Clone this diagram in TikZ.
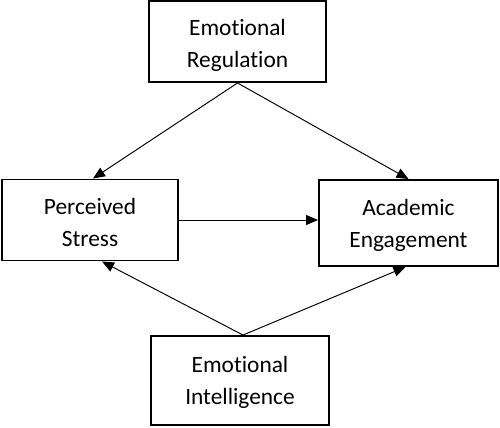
\documentclass[tikz,border=0pt]{standalone}
\usepackage{fontspec}
\setmainfont{Carlito}[RawFeature=-liga]
\usetikzlibrary{arrows.meta}
\begin{document}
\begin{tikzpicture}[x=0.02cm,y=-0.02cm,
	varbox/.style={draw, line width=1.1pt, align=center, inner sep=0pt,
		font=\fontsize{13.3}{18.2}\selectfont},
	link/.style={line width=0.55pt, -{Triangle[length=0.24cm,width=0.2cm]}}]
\useasboundingbox (0,0) rectangle (500,427);

\node[varbox, minimum width=177*0.02cm, minimum height=81*0.02cm] (reg) at (237.5,41.5) {};
\node[varbox, minimum width=176*0.02cm, minimum height=81*0.02cm] (stress) at (90,220) {};
\node[varbox, minimum width=179*0.02cm, minimum height=86*0.02cm] (eng) at (408.5,223) {};
\node[varbox, minimum width=178*0.02cm, minimum height=89*0.02cm] (intel) at (240,380.5) {};

% labels, a little below the box centres
\node[varbox, draw=none] (regtext) at ([yshift=-0.08cm]reg.center) {Emotional\\Regulation};
\node[varbox, draw=none] (stresstext) at ([yshift=-0.04cm]stress.center) {Perceived\\Stress};
\node[varbox, draw=none] (engtext) at ([yshift=-0.04cm]eng.center) {Academic\\Engagement};
\node[varbox, draw=none] (inteltext) at ([yshift=-0.04cm]intel.center) {Emotional\\Intelligence};

\draw[link] (reg.south) -- ([xshift=0.06cm]stress.north);
\draw[link] (reg.south) -- (eng.north);
\draw[link] (stress.east) -- (stress.east -| eng.west);
\draw[link] ([xshift=0.06cm]intel.north) -- ([xshift=0.24cm]stress.south);
\draw[link] ([xshift=0.06cm]intel.north) -- ([xshift=-0.06cm]eng.south);
\end{tikzpicture}
\end{document}
